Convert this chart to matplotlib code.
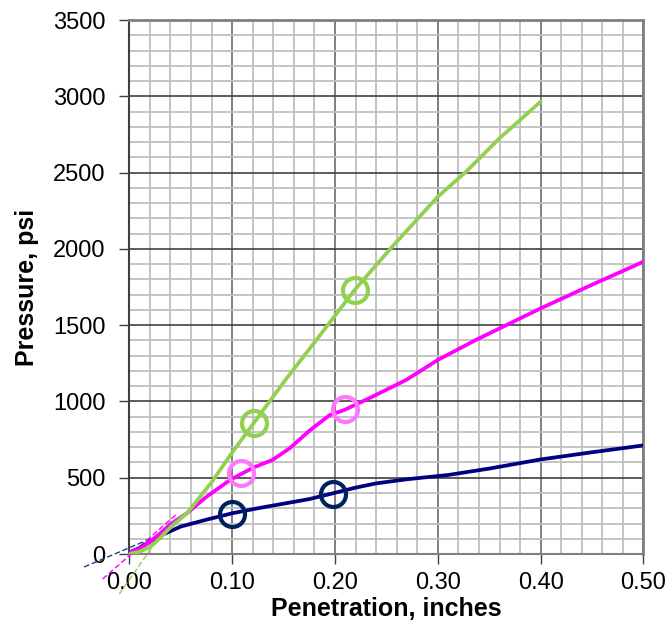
import matplotlib
matplotlib.use("Agg")
import matplotlib.pyplot as plt
from matplotlib.ticker import MultipleLocator, FormatStrFormatter

plt.rcParams['font.family'] = ['Liberation Sans', 'DejaVu Sans']

# penetration (in) / pressure (psi)
navy_x = [0.0, 0.01, 0.02, 0.03, 0.05, 0.075, 0.10, 0.125, 0.15, 0.175, 0.198, 0.22,
          0.24, 0.27, 0.31, 0.35, 0.40, 0.45, 0.50]
navy_y = [10, 40, 80, 120, 180, 225, 267, 300, 330, 360, 398, 435,
          463, 490, 518, 560, 620, 667, 712]

pink_x = [0.0, 0.01, 0.02, 0.03, 0.04, 0.056, 0.075, 0.098, 0.12, 0.139, 0.156, 0.176,
          0.195, 0.209, 0.233, 0.269, 0.30, 0.337, 0.40, 0.45, 0.50]
pink_y = [10, 35, 80, 135, 195, 267, 375, 485, 565, 616, 693, 813,
          911, 944, 1020, 1140, 1272, 1403, 1610, 1765, 1916]

green_x = [0.0, 0.01, 0.02, 0.03, 0.04, 0.056, 0.08, 0.10, 0.121, 0.15, 0.185, 0.219,
           0.2556, 0.30, 0.3275, 0.36, 0.40]
green_y = [0, 15, 45, 105, 175, 267, 470, 665, 858, 1125, 1430, 1730,
           2014, 2342, 2506, 2725, 2965]

# circled points
navy_pts_x = [0.10, 0.198]
navy_pts_y = [265, 396]
pink_pts_x = [0.109, 0.21]
pink_pts_y = [529, 948]
green_pts_x = [0.121, 0.219]
green_pts_y = [858, 1730]

# zero-correction tangent lines
navy_tan_x = [-0.044, 0.03]
navy_tan_y = [-85, 127]
pink_tan_x = [-0.026, 0.045]
pink_tan_y = [-164, 255]
green_tan_x = [-0.0097, 0.04]
green_tan_y = [-262, 217]

NAVY = '#000080'
PINK = '#FF00FF'
GREEN = '#92D050'

fig = plt.figure(figsize=(6.71, 6.29), dpi=100)
ax = fig.add_axes([0.1927, 0.1192, 0.7663, 0.8490])

ax.set_xlim(0, 0.5)
ax.set_ylim(0, 3500)

ax.xaxis.set_major_locator(MultipleLocator(0.1))
ax.xaxis.set_minor_locator(MultipleLocator(0.02))
ax.yaxis.set_major_locator(MultipleLocator(500))
ax.yaxis.set_minor_locator(MultipleLocator(100))
ax.xaxis.set_major_formatter(FormatStrFormatter('%.2f'))

ax.grid(which='minor', color='#BFBFBF', linewidth=1.3)
ax.grid(which='major', axis='x', color='#808080', linewidth=1.4)
ax.grid(which='major', axis='y', color='#404040', linewidth=1.2)
ax.set_axisbelow(True)

ax.tick_params(which='minor', length=0)
ax.tick_params(which='major', direction='out', length=7, width=1, colors='#404040',
               labelcolor='black', labelsize=17)
ax.tick_params(axis='x', pad=6)
ax.tick_params(axis='y', pad=10)

for side in ['top', 'right']:
    ax.spines[side].set_color('#808080')
    ax.spines[side].set_linewidth(2)
ax.spines['left'].set_color('#404040')
ax.spines['left'].set_linewidth(1.5)
ax.spines['bottom'].set_color('#808080')
ax.spines['bottom'].set_linewidth(1.5)

ax.plot(navy_tan_x, navy_tan_y, color='#1F3F8F', lw=1, ls=(0, (4, 2)), clip_on=False, zorder=3)
ax.plot(pink_tan_x, pink_tan_y, color=PINK, lw=1, ls=(0, (4, 2)), clip_on=False, zorder=3)
ax.plot(green_tan_x, green_tan_y, color=GREEN, lw=1, ls=(0, (4, 2)), clip_on=False, zorder=3)

ax.plot(navy_x, navy_y, color=NAVY, lw=2.7, zorder=4, solid_capstyle='round', solid_joinstyle='round')
ax.plot(pink_x, pink_y, color=PINK, lw=2.7, zorder=4, solid_capstyle='round', solid_joinstyle='round')
ax.plot(green_x, green_y, color=GREEN, lw=2.7, zorder=4, solid_capstyle='round', solid_joinstyle='round')

ax.plot(navy_pts_x, navy_pts_y, ls='none', marker='o', ms=18, mfc='none', mec='#002060', mew=3, zorder=5)
ax.plot(pink_pts_x, pink_pts_y, ls='none', marker='o', ms=18, mfc='none', mec='#FF77FF', mew=3, zorder=5)
ax.plot(green_pts_x, green_pts_y, ls='none', marker='o', ms=18, mfc='none', mec=GREEN, mew=3, zorder=5)

ax.set_xlabel('Penetration, inches', fontsize=18, fontweight='bold', labelpad=2)
ax.set_ylabel('Pressure, psi', fontsize=18, fontweight='bold', labelpad=10)

fig.savefig('out.png', dpi=100)
